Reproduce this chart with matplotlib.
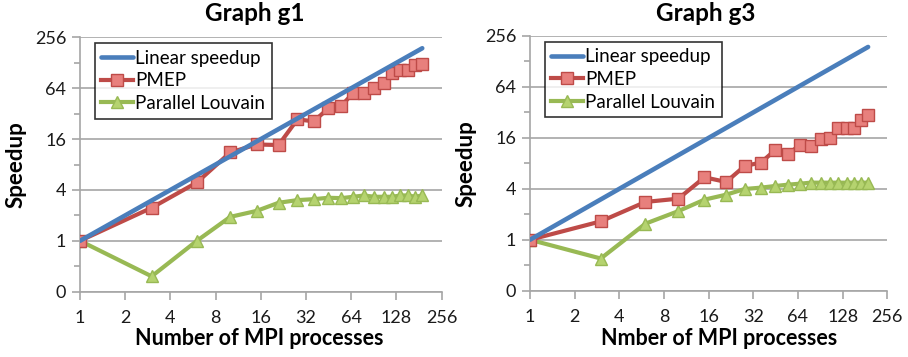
import matplotlib
matplotlib.use("Agg")
import matplotlib.pyplot as plt
from matplotlib.ticker import FixedLocator, FixedFormatter, NullFormatter

plt.rcParams['font.family'] = ['Lato', 'DejaVu Sans']

# MPI process counts
procs = [1, 3, 6, 10, 15, 21, 28, 36, 45, 55, 66, 78, 91, 105, 120, 136, 153, 171, 190]
linear = procs

# Graph g1
pmep_g1 = [1, 2.46, 4.9, 11.1, 13.8, 13.6, 27.3, 26, 36.8, 39.6, 56.4, 56, 63.6, 74,
           95.7, 105, 105, 120, 125]
louvain_g1 = [1, 0.38, 1.0, 1.92, 2.26, 2.82, 3.03, 3.11, 3.23, 3.2, 3.32, 3.44, 3.32,
              3.32, 3.32, 3.44, 3.44, 3.32, 3.44]

# Graph g3
pmep_g3 = [1, 1.65, 2.8, 3.06, 5.47, 4.82, 7.45, 8.17, 11.5, 10.4, 13.1, 12.7, 15.4, 16,
           21.2, 21.2, 21, 25.9, 30.2]
louvain_g3 = [1, 0.6, 1.55, 2.18, 2.98, 3.41, 3.98, 4.13, 4.32, 4.48, 4.6, 4.73, 4.73,
              4.73, 4.73, 4.73, 4.73, 4.73, 4.73]

x_ticks = [1, 2, 4, 8, 16, 32, 64, 128, 256]
x_labels = ["1", "2", "4", "8", "16", "32", "64", "128", "256"]
y_ticks = [0.25, 1, 4, 16, 64, 256]
y_labels = ["0", "1", "4", "16", "64", "256"]
y_minor = [0.5, 2, 8, 32, 128]

titles = ["Graph g1", "Graph g3"]
xlabels = ["Number of MPI processes", "Nmber of MPI processes"]
series_names = ["Linear speedup", "PMEP", "Parallel Louvain"]

BLUE = "#4A7EBB"
RED = "#BE4B48"
RED_FACE = "#E8807D"
GREEN = "#98B954"
GREEN_FACE = "#B5D36F"
GRID = "#A6A6A6"

fig = plt.figure(figsize=(9.08, 3.57), dpi=100)
rects = [[80/908, 65.3/357, 361.7/908, 254.4/357],
         [530/908, 66.3/357, 357.3/908, 254.7/357]]
data = [(pmep_g1, louvain_g1), (pmep_g3, louvain_g3)]
title_x = [255/908, 706/908]
xlabel_x = [0.495, 0.529]
xlabel_y = [-0.2095, -0.213]

for i, rect in enumerate(rects):
    ax = fig.add_axes(rect)
    pm, lv = data[i]
    ax.set_xscale('log', base=2)
    ax.set_yscale('log', base=2)
    l1, = ax.plot(procs, linear, color=BLUE, lw=3.3, solid_capstyle='round', zorder=5,
                  label=series_names[0])
    l2, = ax.plot(procs, pm, color=RED, lw=3, marker='s', ms=8.5, mfc=RED_FACE,
                  mec=RED, mew=1.0, zorder=4, label=series_names[1])
    l3, = ax.plot(procs, lv, color=GREEN, lw=3, marker='^', ms=9, mfc=GREEN_FACE,
                  mec=GREEN, mew=1.0, zorder=3, label=series_names[2])
    ax.set_xlim(1, 256)
    ax.set_ylim(0.25, 256)
    ax.xaxis.set_major_locator(FixedLocator(x_ticks))
    ax.xaxis.set_major_formatter(FixedFormatter(x_labels))
    ax.xaxis.set_minor_locator(FixedLocator([]))
    ax.yaxis.set_major_locator(FixedLocator(y_ticks))
    ax.yaxis.set_major_formatter(FixedFormatter(y_labels))
    ax.yaxis.set_minor_locator(FixedLocator(y_minor))
    ax.yaxis.set_minor_formatter(NullFormatter())
    ax.grid(axis='y', which='major', color=GRID, lw=1.2, zorder=0)
    ax.set_axisbelow(True)
    for s in ['top', 'right']:
        ax.spines[s].set_visible(False)
    for s in ['left', 'bottom']:
        ax.spines[s].set_color(GRID)
        ax.spines[s].set_linewidth(1.2)
    ax.tick_params(axis='both', which='major', labelsize=13, colors=GRID,
                   labelcolor='#1a1a1a', length=6, width=1.2, direction='out')
    ax.tick_params(axis='y', which='minor', length=4, width=1.2, colors=GRID)
    ax.tick_params(axis='x', which='major', pad=7.5)
    ax.tick_params(axis='y', which='major', pad=4)
    ax.set_xlabel(xlabels[i], fontsize=15.5, fontweight='bold')
    ax.xaxis.set_label_coords(xlabel_x[i], xlabel_y[i])
    ax.xaxis.label.set_va('baseline')
    ax.set_ylabel("Speedup", fontsize=16, fontweight='bold', labelpad=6)
    fig.text(title_x[i], 0.962, titles[i], fontsize=17.5, fontweight='bold',
             ha='center', va='center')
    leg = ax.legend(handles=[l1, l2, l3], loc='upper left',
                    bbox_to_anchor=(0.041, 0.977), borderaxespad=0, fontsize=13.5,
                    frameon=True, fancybox=False, edgecolor='black',
                    handlelength=1.7, handletextpad=0.1, labelspacing=0.3,
                    borderpad=0.35)
    leg.get_frame().set_linewidth(1.2)
    leg.set_zorder(10)

fig.savefig("out.png", dpi=100)
